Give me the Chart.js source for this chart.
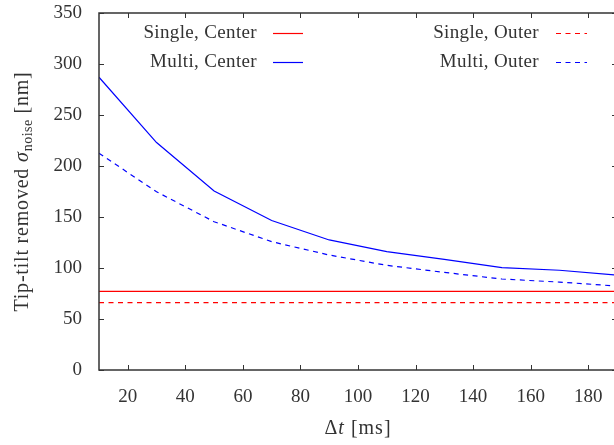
<!DOCTYPE html>
<html>
<head>
<meta charset="utf-8">
<script src="https://cdn.jsdelivr.net/npm/chart.js@4"></script>
<style>
  html, body { margin: 0; padding: 0; background: #fff; overflow: hidden; }
  #wrap { width: 620px; height: 445px; }
</style>
</head>
<body>
<div id="wrap"><canvas id="chart"></canvas></div>
<script>
// sampled time steps (ms)
const dtValues = [10, 30, 50, 70, 90, 110, 130, 150, 170, 190];
const singleCenter = [77, 77, 77, 77, 77, 77, 77, 77, 77, 77];
const multiCenter = [287, 223, 175.5, 146.5, 127.5, 116, 108.5, 100.3, 97.8, 93];
const singleOuter = [66, 66, 66, 66, 66, 66, 66, 66, 66, 66];
const multiOuter = [212.5, 174.7, 145.4, 125.8, 112.7, 102.6, 95.7, 89.2, 86.2, 82.3];
const xTicks = [20, 40, 60, 80, 100, 120, 140, 160, 180];
const yTicks = [0, 50, 100, 150, 200, 250, 300, 350];

const FONT = "'Liberation Serif', 'DejaVu Serif', serif";
const TXT = '#333';
const RED = 'rgb(255,0,0)';
const BLUE = 'rgb(0,0,255)';

const toPts = (vals) => dtValues.map((x, i) => ({ x: x, y: vals[i] }));

// draw a run of text pieces with different fonts
function richWidth(ctx, parts) {
  let w = 0;
  parts.forEach(p => {
    ctx.font = p.font;
    ctx.letterSpacing = p.ls || '0px';
    w += ctx.measureText(p.text).width;
  });
  return w;
}
function drawRich(ctx, parts, x, y) {
  let cx = x;
  parts.forEach(p => {
    ctx.font = p.font;
    ctx.letterSpacing = p.ls || '0px';
    ctx.fillText(p.text, cx, y + (p.dy || 0));
    cx += ctx.measureText(p.text).width;
  });
  ctx.letterSpacing = '0px';
}

const framePlugin = {
  id: 'frame',
  afterDraw(chart) {
    const { ctx, chartArea: a, scales } = chart;
    const sx = scales.x, sy = scales.y;
    ctx.save();
    // box
    ctx.strokeStyle = TXT;
    ctx.lineWidth = 1.5;
    ctx.strokeRect(a.left, a.top, a.right - a.left, a.bottom - a.top);
    // inward ticks on all sides
    ctx.lineWidth = 1;
    ctx.beginPath();
    sx.ticks.forEach(t => {
      const px = Math.round(sx.getPixelForValue(t.value)) + 0.5;
      ctx.moveTo(px, a.bottom); ctx.lineTo(px, a.bottom - 5);
      ctx.moveTo(px, a.top); ctx.lineTo(px, a.top + 5);
    });
    sy.ticks.forEach(t => {
      const py = Math.round(sy.getPixelForValue(t.value)) + 0.5;
      ctx.moveTo(a.left, py); ctx.lineTo(a.left + 5, py);
      ctx.moveTo(a.right, py); ctx.lineTo(a.right - 5, py);
    });
    ctx.stroke();

    // legend: text right-aligned, sample on the right
    const cols = [{ textRight: 257, x0: 273, x1: 303 }, { textRight: 539, x0: 556, x1: 587 }];
    const rows = [33, 62];
    ctx.font = '19px ' + FONT;
    ctx.letterSpacing = '0.35px';
    ctx.textBaseline = 'middle';
    ctx.textAlign = 'right';
    chart.data.datasets.forEach((ds, i) => {
      const col = cols[Math.floor(i / 2)];
      const ry = rows[i % 2];
      ctx.fillStyle = TXT;
      ctx.fillText(ds.label, col.textRight, ry);
      ctx.strokeStyle = ds.borderColor;
      ctx.lineWidth = ds.borderWidth;
      ctx.setLineDash(ds.borderDash || []);
      ctx.beginPath();
      ctx.moveTo(col.x0, ry + 0.5);
      ctx.lineTo(col.x1, ry + 0.5);
      ctx.stroke();
      ctx.setLineDash([]);
    });
    ctx.letterSpacing = '0px';

    // axis titles
    ctx.fillStyle = TXT;
    ctx.textAlign = 'left';
    ctx.textBaseline = 'alphabetic';
    const xParts = [
      { text: '\u0394', font: '20px ' + FONT, ls: '1px' },
      { text: 't', font: 'italic 20px ' + FONT, ls: '1px' },
      { text: ' [ms]', font: '20px ' + FONT, ls: '1px' },
    ];
    const xw = richWidth(ctx, xParts);
    drawRich(ctx, xParts, (a.left + a.right) / 2 - xw / 2, 434);

    const yParts = [
      { text: 'Tip-tilt removed ', font: '20px ' + FONT, ls: '0.8px' },
      { text: '\u03c3', font: 'italic 20px ' + FONT, ls: '0.8px' },
      { text: 'noise', font: '14px ' + FONT, dy: 4, ls: '0.5px' },
      { text: ' [nm]', font: '20px ' + FONT, ls: '0.8px' },
    ];
    const yw = richWidth(ctx, yParts);
    ctx.translate(28, (a.top + a.bottom) / 2);
    ctx.rotate(-Math.PI / 2);
    drawRich(ctx, yParts, -yw / 2, 0);
    ctx.restore();
  }
};

const lineDs = (label, vals, color, dash) => ({
  label: label,
  data: toPts(vals),
  borderColor: color,
  borderWidth: 1.2,
  borderDash: dash,
  pointRadius: 0,
  fill: false,
  tension: 0,
});

new Chart(document.getElementById('chart'), {
  type: 'line',
  data: {
    datasets: [
      lineDs('Single, Center', singleCenter, RED, []),
      lineDs('Multi, Center', multiCenter, BLUE, []),
      lineDs('Single, Outer', singleOuter, RED, [5, 4.5]),
      lineDs('Multi, Outer', multiOuter, BLUE, [5, 4.5]),
    ],
  },
  options: {
    responsive: true,
    maintainAspectRatio: false,
    animation: false,
    layout: { padding: { top: 13, right: 3, left: 0, bottom: 0 } },
    scales: {
      x: {
        type: 'linear',
        min: 10,
        max: 190,
        afterBuildTicks: (s) => { s.ticks = xTicks.map(v => ({ value: v })); },
        afterFit: (s) => { s.height = 75; },
        // invisible tick marks only used to push the labels away from the axis
        grid: { display: false, drawTicks: true, tickLength: 16 },
        border: { display: false },
        ticks: { color: TXT, padding: 0, maxRotation: 0, font: { family: FONT, size: 19 } },
      },
      y: {
        type: 'linear',
        min: 0,
        max: 350,
        afterBuildTicks: (s) => { s.ticks = yTicks.map(v => ({ value: v })); },
        afterFit: (s) => { s.width = 99; },
        grid: { display: false, drawTicks: true, tickLength: 17 },
        border: { display: false },
        ticks: { color: TXT, padding: 0, font: { family: FONT, size: 19 } },
      },
    },
    plugins: {
      legend: { display: false },
      tooltip: { enabled: false },
    },
  },
  plugins: [framePlugin],
});
</script>
</body>
</html>
